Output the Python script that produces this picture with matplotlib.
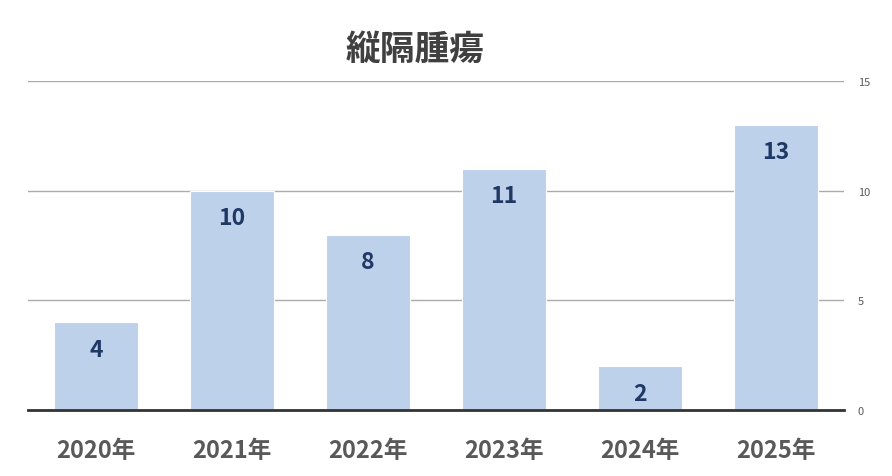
import matplotlib
matplotlib.use("Agg")
import matplotlib.pyplot as plt

# -------------------------------------------
# Data
# -------------------------------------------

years = ["2020年", "2021年", "2022年", "2023年", "2024年", "2025年"]
counts = [4, 10, 8, 11, 2, 13]
y_ticks = [0, 5, 10, 15]

BAR_COLOR = "#BDD1EB"
LABEL_COLOR = "#1F3864"

plt.rcParams["font.family"] = ["Noto Sans CJK JP", "DejaVu Sans"]

fig = plt.figure(figsize=(8.92, 4.77), dpi=100)
ax = fig.add_axes([28 / 892, 66 / 477, 816 / 892, 329 / 477])

x = range(len(years))
bars = ax.bar(x, counts, width=0.62, color=BAR_COLOR, edgecolor="white",
              linewidth=0.8, zorder=3)

for b, v in zip(bars, counts):
    ax.annotate(str(v), (b.get_x() + b.get_width() / 2, v),
                xytext=(0, -27), textcoords="offset pixels",
                ha="center", va="center", fontsize=16.5, fontweight="bold",
                color=LABEL_COLOR, zorder=4)

ax.set_xlim(-0.5, len(years) - 0.5)
ax.set_ylim(0, 15)
ax.set_yticks(y_ticks)
ax.yaxis.tick_right()
ax.tick_params(axis="y", length=0, pad=10, labelsize=8, labelcolor="#595959")
ax.set_xticks(list(x))
ax.set_xticklabels(years, fontsize=17, fontweight="bold", color="#595959")
ax.tick_params(axis="x", length=0, pad=20)

ax.grid(axis="y", color="#ABABAB", linewidth=1, zorder=0)
for s in ["top", "left", "right"]:
    ax.spines[s].set_visible(False)
ax.spines["bottom"].set_color("#333333")
ax.spines["bottom"].set_linewidth(2)
ax.spines["bottom"].set_zorder(5)

fig.text(415 / 892, 1 - 49 / 477, "縦隔腫瘍", ha="center", va="center",
         fontsize=25, fontweight="bold", color="#404040")

fig.savefig("out.png", dpi=100)
